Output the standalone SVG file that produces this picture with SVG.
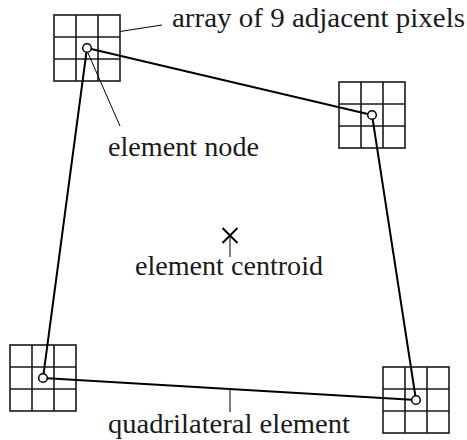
<svg xmlns="http://www.w3.org/2000/svg" width="467" height="440" viewBox="0 0 467 440">
<defs>
<style>
.grid{fill:none;stroke:#1a1a1a;stroke-width:1.6}
.quad{fill:none;stroke:#000;stroke-width:2;stroke-linejoin:round}
.lead{fill:none;stroke:#000;stroke-width:1}
.node{fill:#fff;stroke:#000;stroke-width:1.5}
.lbl{font-family:"Liberation Serif","DejaVu Serif","Times New Roman",serif;font-size:26.5px;fill:#1a1a1a}
.cross{stroke:#000;stroke-width:2;fill:none}
</style>
<g id="pixgrid">
<rect x="0" y="0" width="66" height="66"/>
<path d="M22 0V66M44 0V66M0 22H66M0 44H66"/>
</g>
</defs>
<rect width="467" height="440" fill="#fff"/>
<g id="grid1" class="grid"><use href="#pixgrid" x="54" y="15"/></g>
<g id="grid2" class="grid"><use href="#pixgrid" x="339" y="82"/></g>
<g id="grid3" class="grid"><use href="#pixgrid" x="10" y="345"/></g>
<g id="grid4" class="grid"><use href="#pixgrid" x="383" y="367"/></g>
<g id="connectors">
<polygon class="quad" points="87,48 372,115 416,400 43,378"/>
<line class="lead" x1="120" y1="31.5" x2="162" y2="25"/>
<line class="lead" x1="88" y1="53" x2="120" y2="126"/>
<line class="lead" x1="230" y1="236" x2="230" y2="257"/>
<line class="lead" x1="230" y1="389" x2="230" y2="412"/>
</g>
<g id="nodes">
<circle id="n1" class="node" cx="87" cy="48" r="4.3"/>
<circle id="n2" class="node" cx="372" cy="115" r="4.3"/>
<circle id="n3" class="node" cx="43" cy="378" r="4.3"/>
<circle id="n4" class="node" cx="416" cy="400" r="4.3"/>
</g>
<g id="centroid">
<path class="cross" d="M222.5 228L237.5 243M237.5 228L222.5 243"/>
</g>
<g id="labels">
<text class="lbl" x="172" y="27" textLength="293" lengthAdjust="spacingAndGlyphs">array of 9 adjacent pixels</text>
<text class="lbl" x="108" y="156" textLength="151" lengthAdjust="spacingAndGlyphs">element node</text>
<text class="lbl" x="135" y="275" textLength="188" lengthAdjust="spacingAndGlyphs">element centroid</text>
<text class="lbl" x="108" y="433" textLength="242" lengthAdjust="spacingAndGlyphs">quadrilateral element</text>
</g>
</svg>
